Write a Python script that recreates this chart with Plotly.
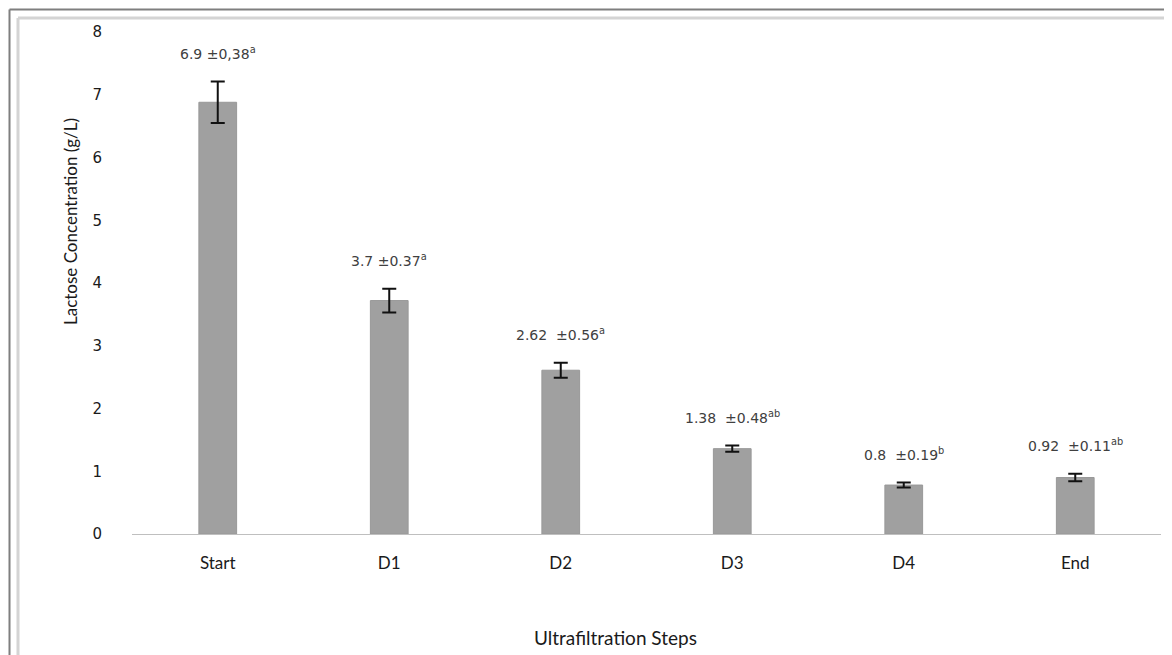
import plotly.graph_objects as go

categories = ["Start", "D1", "D2", "D3", "D4", "End"]
values = [6.88, 3.72, 2.61, 1.36, 0.78, 0.90]
errors = [0.33, 0.19, 0.12, 0.05, 0.04, 0.06]
label_means = ["6.9", "3.7", "2.62 ", "1.38 ", "0.8 ", "0.92 "]
label_sds = ["±0,38", "±0.37", "±0.56", "±0.48", "±0.19", "±0.11"]
label_letters = ["a", "a", "a", "ab", "b", "ab"]
y_ticks = [0, 1, 2, 3, 4, 5, 6, 7, 8]

W, H = 1172, 655
OFF = 8  # page body margin
L, R, T, B = 124, 19, 24, 129
pw, ph = W - L - R, H - T - B


def px(xs):
    return (xs - OFF - L) / pw


def py(ys):
    return 1 - (ys - OFF - T) / ph


fig = go.Figure()
fig.add_trace(go.Bar(
    x=categories, y=values, width=0.22,
    marker=dict(color="#a0a0a0", line=dict(color="#989898", width=1)),
    error_y=dict(type="data", array=errors, visible=True, color="#111111",
                 thickness=2, width=7),
    showlegend=False,
))

for c, v, e, m, s, l in zip(categories, values, errors, label_means, label_sds, label_letters):
    fig.add_annotation(x=c, y=v + e, xref="x", yref="y",
                       text=f"{m} {s}<sup>{l}</sup>", showarrow=False,
                       yanchor="middle", yshift=29,
                       font=dict(family="DejaVu Sans", size=14, color="#404040"))

fig.update_xaxes(type="category", showline=True, linecolor="#bfbfbf", linewidth=1,
                 ticks="", showgrid=False, ticklabelstandoff=14,
                 tickfont=dict(family="Lato", size=17, color="#1a1a1a"))
fig.update_yaxes(range=[0, 8], tickvals=y_ticks, showgrid=False, zeroline=False,
                 showline=False, ticks="", ticklabelstandoff=29,
                 tickfont=dict(family="DejaVu Sans", size=15, color="#1a1a1a"))

fig.add_annotation(xref="paper", yref="paper", x=px(70), y=py(222),
                   xanchor="center", yanchor="middle",
                   text="Lactose Concentration (g/L)", textangle=-90, showarrow=False,
                   font=dict(family="Lato", size=17, color="#1a1a1a"))
fig.add_annotation(xref="paper", yref="paper", x=px(615), y=py(637),
                   xanchor="center", yanchor="middle",
                   text="Ultrafiltration Steps", showarrow=False,
                   font=dict(family="Lato", size=19, color="#1a1a1a"))

# frame lines
fig.add_shape(type="line", xref="paper", yref="paper", x0=px(9.5), x1=px(9.5), y0=py(9.5), y1=py(700),
              line=dict(color="#7f7f7f", width=2))
fig.add_shape(type="line", xref="paper", yref="paper", x0=px(9.5), x1=px(1200), y0=py(9.5), y1=py(9.5),
              line=dict(color="#7f7f7f", width=2))
fig.add_shape(type="line", xref="paper", yref="paper", x0=px(18), x1=px(18), y0=py(18), y1=py(700),
              line=dict(color="#d4d4d4", width=3))
fig.add_shape(type="line", xref="paper", yref="paper", x0=px(18), x1=px(1200), y0=py(18), y1=py(18),
              line=dict(color="#d4d4d4", width=3))

fig.update_layout(width=W, height=H, margin=dict(l=L, r=R, t=T, b=B),
                  plot_bgcolor="white", paper_bgcolor="white", bargap=0.78)

fig.write_html("out.html")
